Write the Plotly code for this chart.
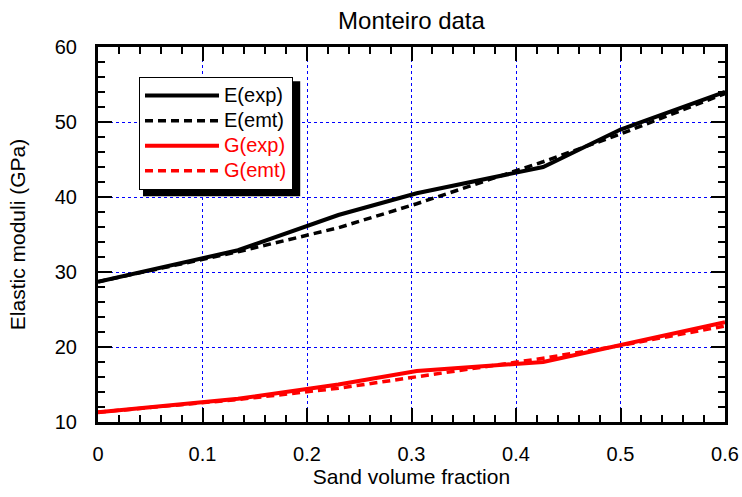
import plotly.graph_objects as go

# Data
sand_fraction = [0.0, 0.134, 0.23, 0.305, 0.426, 0.5, 0.6]
E_exp = [28.7, 32.9, 37.6, 40.5, 44.0, 49.0, 54.0]
E_emt = [28.7, 32.7, 35.9, 39.1, 44.7, 48.4, 53.8]
G_exp = [11.3, 13.1, 15.0, 16.8, 18.0, 20.3, 23.3]
G_emt = [11.3, 13.0, 14.5, 16.0, 18.5, 20.2, 22.8]

x_ticks = [0, 0.1, 0.2, 0.3, 0.4, 0.5, 0.6]
x_ticklabels = ["0", "0.1", "0.2", "0.3", "0.4", "0.5", "0.6"]
y_ticks = [10, 20, 30, 40, 50, 60]

FONT = "Liberation Sans, Arial, sans-serif"


def legend_name(text, color):
    return f"<span style='font-size:20px;color:{color}'>{text}</span>"


fig = go.Figure()
fig.add_trace(go.Scatter(x=sand_fraction, y=E_exp, mode="lines", name=legend_name("E(exp)", "black"),
                         line=dict(color="black", width=4)))
fig.add_trace(go.Scatter(x=sand_fraction, y=E_emt, mode="lines", name=legend_name("E(emt)", "black"),
                         line=dict(color="black", width=3.5, dash="8px,5px")))
fig.add_trace(go.Scatter(x=sand_fraction, y=G_exp, mode="lines", name=legend_name("G(exp)", "red"),
                         line=dict(color="red", width=4)))
fig.add_trace(go.Scatter(x=sand_fraction, y=G_emt, mode="lines", name=legend_name("G(emt)", "red"),
                         line=dict(color="red", width=3.5, dash="8px,5px")))

axis_common = dict(
    showline=True, linecolor="black", linewidth=3, mirror="ticks",
    ticks="inside", ticklen=14, tickwidth=2, tickcolor="black",
    showgrid=True, gridcolor="blue", gridwidth=1, griddash="dot",
    zeroline=False, automargin=False,
    tickfont=dict(family=FONT, size=20, color="black"),
)

fig.update_xaxes(
    range=[0, 0.6], tickmode="array", tickvals=x_ticks, ticktext=x_ticklabels,
    minor=dict(dtick=0.02, ticks="inside", ticklen=7, tickwidth=2, tickcolor="black", showgrid=False),
    title=dict(text="Sand volume fraction", font=dict(family=FONT, size=21, color="black"), standoff=4),
    ticklabelstandoff=12,
    **axis_common,
)
fig.update_yaxes(
    range=[10, 60], tickmode="array", tickvals=y_ticks,
    minor=dict(dtick=2, ticks="inside", ticklen=7, tickwidth=2, tickcolor="black", showgrid=False),
    title=dict(text="Elastic moduli (GPa)", font=dict(family=FONT, size=21, color="black"), standoff=24),
    ticklabelstandoff=14,
    **axis_common,
)

# legend shadow
fig.add_shape(type="rect", xref="paper", yref="paper",
              x0=0.0718, x1=0.3225, y0=0.602, y1=0.909,
              fillcolor="black", line=dict(width=0), layer="above")

fig.update_layout(
    width=742, height=497,
    margin=dict(l=98, r=17, t=47, b=75),
    paper_bgcolor="white", plot_bgcolor="white",
    title=dict(text="Monteiro data", xref="paper", x=0.5, xanchor="center", y=0.958, yanchor="middle",
               font=dict(family=FONT, size=24, color="black")),
    legend=dict(x=0.0654, y=0.92, xanchor="left", yanchor="top",
                bgcolor="white", bordercolor="black", borderwidth=1,
                font=dict(family=FONT, size=17, color="black"),
                itemwidth=74, tracegroupgap=0),
    showlegend=True,
)

fig.write_html("out.html")
